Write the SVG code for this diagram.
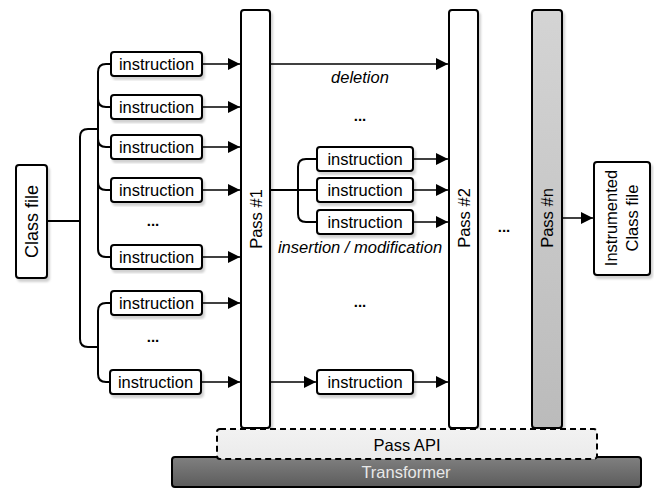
<svg xmlns="http://www.w3.org/2000/svg" width="654" height="488" viewBox="0 0 654 488">
<style>
  text { font-family: "Liberation Sans", Arial, sans-serif; font-size: 16.5px; fill: #000; }
  .c { text-anchor: middle; dominant-baseline: central; }
  .it { font-style: italic; }
  .dots { font-weight: bold; font-size: 15px; }
  .box { fill: #fff; stroke: #000; stroke-width: 2; }
  .ln { fill: none; stroke: #000; stroke-width: 2; }
  .arr { fill: none; stroke: #000; stroke-width: 1.5; marker-end: url(#ah); }
</style>
<defs>
  <marker id="ah" viewBox="0 0 10 10" refX="10" refY="5" markerWidth="8" markerHeight="8" markerUnits="strokeWidth" orient="auto">
    <path d="M0,0 L10,5 L0,10 Z" fill="#000"/>
  </marker>
  <filter id="sh" x="-20%" y="-20%" width="140%" height="140%">
    <feDropShadow dx="2" dy="3" stdDeviation="1" flood-color="#000" flood-opacity="0.18"/>
  </filter>
  <linearGradient id="gn" x1="0" y1="0" x2="0" y2="1">
    <stop offset="0" stop-color="#d4d4d4"/>
    <stop offset="1" stop-color="#bbbbbb"/>
  </linearGradient>
  <linearGradient id="gt" x1="0" y1="0" x2="0" y2="1">
    <stop offset="0" stop-color="#808080"/>
    <stop offset="1" stop-color="#5c5c5c"/>
  </linearGradient>
  <linearGradient id="ga" x1="0" y1="0" x2="0" y2="1">
    <stop offset="0" stop-color="#f2f2f2"/>
    <stop offset="1" stop-color="#ebebeb"/>
  </linearGradient>
</defs>

<g id="connectors">
  <path class="ln" d="M47,221 H80" stroke-width="2.5"/>
  <path class="ln" d="M98,129 H88 Q80,129 80,137 V339 Q80,347 88,347 H98"/>
  <path class="ln" d="M111,64 H106 Q98,64 98,72 V249 Q98,257 106,257 H111"/>
  <path class="ln" d="M98,99 Q98,107 106,107 H111"/>
  <path class="ln" d="M98,139 Q98,147 106,147 H111"/>
  <path class="ln" d="M98,182 Q98,190 106,190 H111"/>
  <path class="ln" d="M111,303 H106 Q98,303 98,311 V374 Q98,382 106,382 H110"/>
  <path class="arr" d="M202,64 H240"/>
  <path class="arr" d="M202,107 H240"/>
  <path class="arr" d="M202,147 H240"/>
  <path class="arr" d="M202,190 H240"/>
  <path class="arr" d="M202,257 H240"/>
  <path class="arr" d="M202,303 H240"/>
  <path class="arr" d="M201,382 H240"/>
  <path class="arr" d="M270,64 H448"/>
  <path class="ln" d="M270,190 H317"/>
  <path class="ln" d="M317,159 H306 Q298,159 298,167 V214 Q298,222 306,222 H317"/>
  <path class="arr" d="M413,159 H448"/>
  <path class="arr" d="M413,190 H448"/>
  <path class="arr" d="M413,222 H448"/>
  <path class="arr" d="M270,382 H316"/>
  <path class="arr" d="M413,382 H448"/>
  <path class="arr" d="M562,218 H593"/>
</g>

<g id="class-file">
  <rect class="box" x="16" y="165" width="31" height="113" rx="3" filter="url(#sh)"/>
  <text class="c" x="31.5" y="221.5" transform="rotate(-90 31.5 221.5)" style="font-size:18px">Class file</text>
</g>

<g id="instr-left-1"><rect class="box" x="111" y="52" width="91" height="24" rx="3" filter="url(#sh)"/><text class="c" x="156.5" y="64">instruction</text></g>
<g id="instr-left-2"><rect class="box" x="111" y="95" width="91" height="24" rx="3" filter="url(#sh)"/><text class="c" x="156.5" y="107">instruction</text></g>
<g id="instr-left-3"><rect class="box" x="111" y="135" width="91" height="24" rx="3" filter="url(#sh)"/><text class="c" x="156.5" y="147">instruction</text></g>
<g id="instr-left-4"><rect class="box" x="111" y="178" width="91" height="24" rx="3" filter="url(#sh)"/><text class="c" x="156.5" y="190">instruction</text></g>
<g id="dots-left-1"><text class="c dots" x="153" y="220">...</text></g>
<g id="instr-left-5"><rect class="box" x="111" y="245" width="91" height="24" rx="3" filter="url(#sh)"/><text class="c" x="156.5" y="257">instruction</text></g>
<g id="instr-left-6"><rect class="box" x="111" y="291" width="91" height="24" rx="3" filter="url(#sh)"/><text class="c" x="156.5" y="303">instruction</text></g>
<g id="dots-left-2"><text class="c dots" x="153" y="336">...</text></g>
<g id="instr-left-7"><rect class="box" x="110" y="370" width="91" height="24" rx="3" filter="url(#sh)"/><text class="c" x="155.5" y="382">instruction</text></g>

<g id="pass-1">
  <rect class="box" x="241" y="10" width="29" height="418" rx="3" filter="url(#sh)"/>
  <text class="c" x="255.5" y="219" transform="rotate(-90 255.5 219)">Pass #1</text>
</g>

<g id="deletion-label"><text class="c it" x="360" y="77">deletion</text></g>
<g id="dots-mid-1"><text class="c dots" x="360" y="115">...</text></g>
<g id="instr-mid-1"><rect class="box" x="317" y="147" width="96" height="24" rx="3" filter="url(#sh)"/><text class="c" x="365" y="159">instruction</text></g>
<g id="instr-mid-2"><rect class="box" x="317" y="178" width="96" height="24" rx="3" filter="url(#sh)"/><text class="c" x="365" y="190">instruction</text></g>
<g id="instr-mid-3"><rect class="box" x="317" y="210" width="96" height="24" rx="3" filter="url(#sh)"/><text class="c" x="365" y="222">instruction</text></g>
<g id="insertion-label"><text class="c it" x="360" y="247">insertion / modification</text></g>
<g id="dots-mid-2"><text class="c dots" x="360" y="301">...</text></g>
<g id="instr-mid-4"><rect class="box" x="317" y="370" width="96" height="24" rx="3" filter="url(#sh)"/><text class="c" x="365" y="382">instruction</text></g>

<g id="pass-2">
  <rect class="box" x="449" y="10" width="29" height="418" rx="3" filter="url(#sh)"/>
  <text class="c" x="463.5" y="218" transform="rotate(-90 463.5 218)">Pass #2</text>
</g>
<g id="dots-pass"><text class="c dots" x="504" y="226">...</text></g>
<g id="pass-n">
  <rect x="532" y="10" width="30" height="418" rx="3" fill="url(#gn)" stroke="#000" stroke-width="2" filter="url(#sh)"/>
  <text class="c" x="547" y="218" transform="rotate(-90 547 218)">Pass #n</text>
</g>

<g id="instrumented-class-file">
  <rect class="box" x="594" y="162" width="56" height="113" rx="3" filter="url(#sh)"/>
  <text class="c" x="611" y="218" transform="rotate(-90 611 218)">Instrumented</text>
  <text class="c" x="632" y="218" transform="rotate(-90 632 218)">Class file</text>
</g>

<g id="transformer">
  <rect x="172" y="457" width="469" height="30" rx="3" fill="url(#gt)" stroke="#000" stroke-width="2"/>
  <text class="c" x="406" y="472" style="fill:#e8e8e8">Transformer</text>
</g>
<g id="pass-api">
  <rect x="217" y="429" width="380" height="30" rx="3" fill="url(#ga)" stroke="#000" stroke-width="2" stroke-dasharray="6 4"/>
  <text class="c" x="407" y="445">Pass API</text>
</g>
</svg>
